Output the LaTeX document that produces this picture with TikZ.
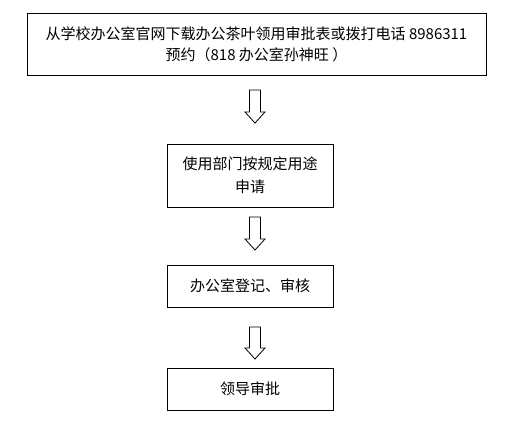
\documentclass[tikz,border=0pt]{standalone}
\usepackage{fontspec}
\newfontfamily\cjk{Noto Sans CJK SC}
\begin{document}
\begin{tikzpicture}[x=1pt,y=-1pt,
  flowbox/.style={draw=black, line width=0.8pt, inner sep=0pt, font=\cjk\fontsize{15}{23}\selectfont, align=center},
  hollowarrow/.style={draw=black, line width=0.8pt, fill=white}]
\useasboundingbox (0,0) rectangle (510,432);
\node[flowbox, minimum width=459pt, minimum height=62pt] (b1) at (256.5,44)
  {从学校办公室官网下载办公茶叶领用审批表或拨打电话 8986311\\[-2pt]预约（818 办公室孙神旺 ）};
\node[flowbox, minimum width=166pt, minimum height=63pt] (b2) at (250,175.5) {使用部门按规定用途\\申请};
\node[flowbox, minimum width=166pt, minimum height=42pt] (b3) at (250,286) {办公室登记、审核};
\node[flowbox, minimum width=166pt, minimum height=42pt] (b4) at (250,389) {领导审批};
\foreach \n/\t/\b in {a1/90/123, a2/217/250, a3/327/359}{
  \coordinate (\n) at (255,\t);
  \draw[hollowarrow] (249.5,\t) -- (260.5,\t) -- (260.5,\b-11) -- (265,\b-11) -- (255,\b) -- (245,\b-11) -- (249.5,\b-11) -- cycle;
}
\end{tikzpicture}
\end{document}
